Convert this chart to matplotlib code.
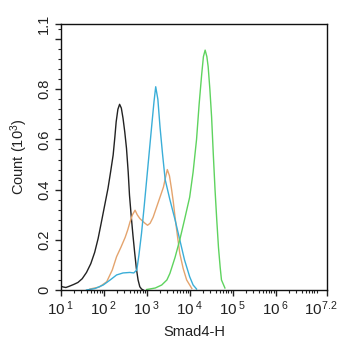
import matplotlib
matplotlib.use("Agg")
import matplotlib.pyplot as plt
import matplotlib.transforms as mtransforms
from matplotlib.ticker import FixedLocator, NullFormatter
import numpy as np

plt.rcParams['font.family'] = ['Liberation Sans', 'DejaVu Sans']
plt.rcParams['mathtext.default'] = 'regular'

# log10(fluorescence) positions and counts (x10^3)
black_x = [1.0, 1.06, 1.12, 1.20, 1.30, 1.40, 1.50, 1.60, 1.70, 1.79, 1.87, 1.94, 2.02, 2.10, 2.16, 2.22, 2.26, 2.29, 2.33, 2.37, 2.41, 2.45, 2.49, 2.53, 2.57, 2.60, 2.64, 2.68, 2.72, 2.76, 2.80, 2.84, 2.88, 2.92]
black_y = [0.015, 0.012, 0.010, 0.015, 0.022, 0.030, 0.045, 0.070, 0.105, 0.150, 0.205, 0.265, 0.335, 0.405, 0.470, 0.538, 0.610, 0.670, 0.720, 0.740, 0.725, 0.684, 0.630, 0.565, 0.470, 0.378, 0.295, 0.219, 0.150, 0.086, 0.040, 0.013, 0.004, 0.0]

blue_x = [1.60, 1.80, 1.99, 2.15, 2.30, 2.45, 2.61, 2.70, 2.77, 2.82, 2.88, 2.94, 3.00, 3.06, 3.12, 3.17, 3.21, 3.26, 3.31, 3.37, 3.43, 3.54, 3.66, 3.77, 3.88, 4.00, 4.08, 4.16]
blue_y = [0.0, 0.006, 0.020, 0.040, 0.060, 0.068, 0.070, 0.068, 0.080, 0.140, 0.226, 0.330, 0.440, 0.550, 0.660, 0.750, 0.810, 0.760, 0.650, 0.540, 0.440, 0.360, 0.280, 0.200, 0.120, 0.053, 0.020, 0.004]

orange_x = [1.68, 1.90, 2.07, 2.20, 2.30, 2.40, 2.50, 2.56, 2.61, 2.67, 2.73, 2.78, 2.84, 2.90, 2.96, 3.02, 3.08, 3.15, 3.23, 3.31, 3.39, 3.44, 3.48, 3.53, 3.58, 3.62, 3.66, 3.72, 3.77, 3.85, 3.93, 4.05]
orange_y = [0.004, 0.012, 0.033, 0.080, 0.133, 0.170, 0.210, 0.240, 0.270, 0.300, 0.318, 0.300, 0.285, 0.275, 0.266, 0.258, 0.266, 0.290, 0.330, 0.370, 0.410, 0.450, 0.480, 0.455, 0.400, 0.350, 0.290, 0.210, 0.146, 0.085, 0.040, 0.006]

green_x = [3.00, 3.20, 3.35, 3.47, 3.54, 3.66, 3.77, 3.88, 4.00, 4.08, 4.16, 4.22, 4.28, 4.32, 4.36, 4.40, 4.43, 4.47, 4.51, 4.55, 4.59, 4.63, 4.67, 4.71, 4.74, 4.82]
green_y = [0.002, 0.008, 0.020, 0.040, 0.066, 0.130, 0.200, 0.280, 0.370, 0.470, 0.600, 0.740, 0.860, 0.930, 0.956, 0.930, 0.890, 0.800, 0.690, 0.540, 0.400, 0.280, 0.170, 0.090, 0.040, 0.008]

x_tick_pos = [1, 2, 3, 4, 5, 6, 7.2]
x_tick_labels = [r'10$\,^{1}$', r'10$\,^{2}$', r'10$\,^{3}$', r'10$\,^{4}$', r'10$\,^{5}$', r'10$\,^{6}$', r'10$^{7.2}$']
y_tick_pos = [0, 0.2, 0.4, 0.6, 0.8, 1.0, 1.06]
y_tick_labels = ['0', '0.2', '0.4', '0.6', '0.8', '', '1.1']

fig = plt.figure(figsize=(3.43, 3.5), dpi=100)
ax = fig.add_axes([0.177, 0.1714, 0.777, 0.76])
ax.set_xscale('log')

for xs, ys, col in [(black_x, black_y, '#222222'),
                    (orange_x, orange_y, '#e4a46e'),
                    (blue_x, blue_y, '#3aaed8'),
                    (green_x, green_y, '#5ed35e')]:
    ax.plot(10 ** np.array(xs), ys, color=col, lw=1.0)

ax.set_xlim(10 ** 1, 10 ** 7.2)
ax.set_ylim(0, 1.06)

ax.xaxis.set_major_locator(FixedLocator([10 ** v for v in x_tick_pos]))
ax.set_xticklabels(x_tick_labels)
minors = [m * 10 ** d for d in range(1, 7) for m in range(2, 10) if m * 10 ** d < 10 ** 7.2]
ax.xaxis.set_minor_locator(FixedLocator(minors))
ax.xaxis.set_minor_formatter(NullFormatter())

ax.set_yticks(y_tick_pos)
ax.set_yticklabels(y_tick_labels, rotation=90, va='center')
ax.yaxis.set_minor_locator(FixedLocator([i * 0.04 for i in range(27) if i % 5 != 0]))

ax.tick_params(which='major', direction='out', length=4, width=1, colors='#222222', pad=3)
ax.tick_params(axis='x', which='major', labelsize=11)
ax.tick_params(axis='y', which='major', labelsize=10.5)
ax.tick_params(which='minor', direction='out', length=2.5, width=0.8, colors='#222222')
for s in ax.spines.values():
    s.set_linewidth(1.0)
    s.set_color('#111111')

# shift the last x label left so it stays inside the figure
last = ax.get_xticklabels()[-1]
last.set_transform(last.get_transform() + mtransforms.ScaledTranslation(-7 / 100, 0, fig.dpi_scale_trans))

ax.set_xlabel('Smad4-H', fontsize=10.5, color='#222222', labelpad=5)
ax.set_ylabel(r'Count (10$^{3}$)', fontsize=10.5, color='#222222', labelpad=5)

fig.savefig('out.png', dpi=100)
